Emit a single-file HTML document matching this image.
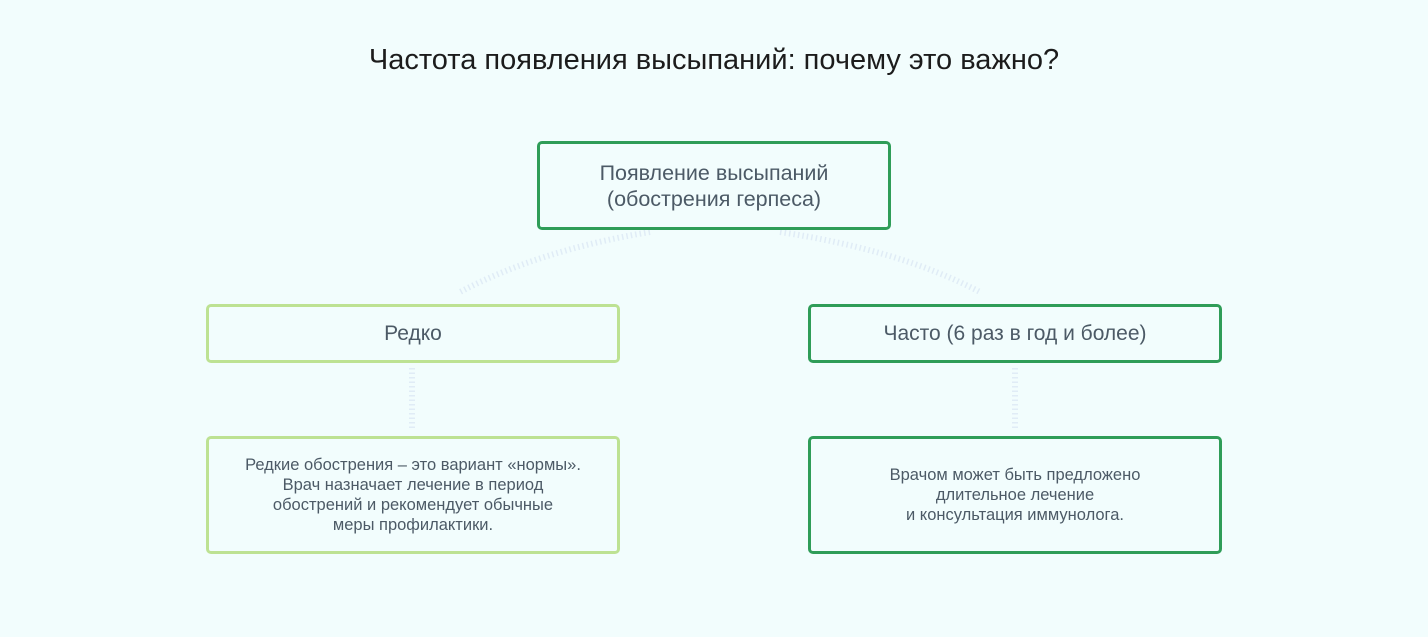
<!DOCTYPE html>
<html><head><meta charset="utf-8"><style>
body{margin:0;width:1428px;height:637px;background:#f2fdfd;position:relative;font-family:"Liberation Sans",sans-serif;overflow:hidden}
.t{position:absolute;left:0;width:1428px;top:44px;text-align:center;font-size:29px;color:#1c1c1c}
.b{position:absolute;box-sizing:border-box;border:3px solid #2f9d58;border-radius:5px;display:flex;align-items:center;justify-content:center;text-align:center;color:#4c5a66;background:#f2fdfd}
.l{border-color:#bde293}
</style></head><body>
<div class="t">Частота появления высыпаний: почему это важно?</div>
<svg width="1428" height="637" style="position:absolute;left:0;top:0">
<g stroke="#e0ecf6" stroke-width="6" stroke-dasharray="1.5 3" fill="none">
<path d="M650 232 Q540 250 460 292"/>
<path d="M780 232 Q900 250 980 292"/>
<path d="M412 368 V428"/>
<path d="M1015 368 V428"/>
</g></svg>
<div class="b" style="left:537px;top:141px;width:354px;height:89px;font-size:21.5px;line-height:26px">Появление высыпаний<br>(обострения герпеса)</div>
<div class="b l" style="left:206px;top:304px;width:414px;height:59px;font-size:21px">Редко</div>
<div class="b" style="left:808px;top:304px;width:414px;height:59px;font-size:21px">Часто (6 раз в год и более)</div>
<div class="b l" style="left:206px;top:436px;width:414px;height:118px;font-size:16.5px;line-height:20px">Редкие обострения – это вариант «нормы».<br>Врач назначает лечение в период<br>обострений и рекомендует обычные<br>меры профилактики.</div>
<div class="b" style="left:808px;top:436px;width:414px;height:118px;font-size:16.5px;line-height:20px">Врачом может быть предложено<br>длительное лечение<br>и консультация иммунолога.</div>
</body></html>
